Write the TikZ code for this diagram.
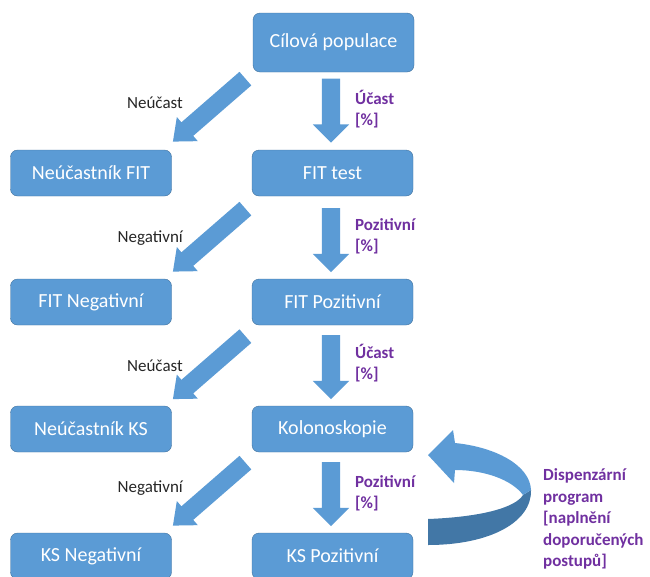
\documentclass[tikz,border=0pt]{standalone}
\usepackage{fontspec}
\setmainfont{Carlito}
\usetikzlibrary{shapes.arrows,positioning}
\definecolor{boxblue}{RGB}{91,155,213}
\definecolor{boxedge}{RGB}{65,113,156}
\definecolor{ribbondark}{RGB}{66,119,166}
\definecolor{labelpurple}{RGB}{112,48,160}
\definecolor{labelgray}{RGB}{38,38,38}

\begin{document}
\begin{tikzpicture}[x=1pt, y=-1pt]
    % Styles
    \tikzstyle{stepbox} = [draw=boxedge, fill=boxblue, rounded corners=7pt, minimum width=161pt, minimum height=46pt, inner sep=0pt, text=white, font=\fontsize{20}{24}\selectfont]
    \tikzstyle{downarrow} = [single arrow, fill=boxblue, minimum width=0pt, minimum height=64pt, inner xsep=0pt, inner ysep=9pt, single arrow head extend=9pt, single arrow tip angle=90, rotate=-90, anchor=tip]
    \tikzstyle{sidearrow} = [single arrow, fill=boxblue, minimum width=0pt, minimum height=96pt, inner xsep=0pt, inner ysep=8.8pt, single arrow head extend=7pt, single arrow tip angle=80, rotate=221, anchor=tip]
    \tikzstyle{plainlabel} = [font=\fontsize{17}{20}\selectfont, text=labelgray, anchor=base east, inner sep=0pt]
    \tikzstyle{pctlabel} = [font=\bfseries\fontsize{17}{20.5}\selectfont, text=labelpurple, align=left, anchor=base west, inner sep=0pt]

    \useasboundingbox (0,0) rectangle (650,576);

    % Main column
    \node[stepbox, minimum height=59pt] (pop) at (333.5,42.5) {Cílová populace};
    \node[stepbox] (fit) at (332.5,173) {FIT test};
    \node[stepbox] (fitpos) at (332.5,302) {FIT Pozitivní};
    \node[stepbox] (ks) at (332.5,429) {Kolonoskopie};
    \node[stepbox] (kspos) at (332.5,556) {KS Pozitivní};

    % Side column
    \node[stepbox] (nofit) at (91,173) {Neúčastník FIT};
    \node[stepbox] (fitneg) at (91,302) {FIT Negativní};
    \node[stepbox] (noks) at (91,429) {Neúčastník KS};
    \node[stepbox] (ksneg) at (91,556) {KS Negativní};

    % Down arrows
    \node[downarrow] (d1) at ([xshift=-1.5pt,yshift=7pt]fit.north) {};
    \node[downarrow] (d2) at ([xshift=-1.5pt,yshift=6.5pt]fitpos.north) {};
    \node[downarrow] (d3) at ([xshift=-1.5pt,yshift=6.5pt]ks.north) {};
    \node[downarrow] (d4) at ([xshift=-1.5pt,yshift=6.5pt]kspos.north) {};

    % Side arrows
    \node[sidearrow] (s1) at ([xshift=1pt,yshift=8pt]nofit.north east) {};
    \node[sidearrow] (s2) at ([xshift=1pt,yshift=7pt]fitneg.north east) {};
    \node[sidearrow] (s3) at ([xshift=1pt,yshift=6.5pt]noks.north east) {};
    \node[sidearrow] (s4) at ([xshift=1pt,yshift=7pt]ksneg.north east) {};

    % Labels
    \node[plainlabel] (l1) at (183,108.5) {Neúčast};
    \node[plainlabel] (l2) at (183,242.5) {Negativní};
    \node[plainlabel] (l3) at (183,371.5) {Neúčast};
    \node[plainlabel] (l4) at (183,492.5) {Negativní};
    \node[pctlabel] (p1) at (355,125) {Účast\\{[\%]}};
    \node[pctlabel] (p2) at (355,251) {Pozitivní\\{[\%]}};
    \node[pctlabel] (p3) at (355,379) {Účast\\{[\%]}};
    \node[pctlabel] (p4) at (355,508) {Pozitivní\\{[\%]}};

    % Loop back arrow
    \fill[ribbondark] (428,519) .. controls (480,517) and (515,508) .. (523,495)
        -- (531,490) .. controls (532,522) and (490,545) .. (428,545) -- cycle;
    \fill[boxblue] (455,443) .. controls (495,447) and (530,465) .. (531,490)
        -- (523,495) .. controls (512,480) and (485,470) .. (455,470)
        -- (454,483) -- (428,455) -- (453,430) -- cycle;
    \node[pctlabel, font=\bfseries\fontsize{17}{21.5}\selectfont] (loop) at (543,566.5) {Dispenzární\\program\\{[naplnění}\\doporučených\\postupů]};
\end{tikzpicture}
\end{document}
